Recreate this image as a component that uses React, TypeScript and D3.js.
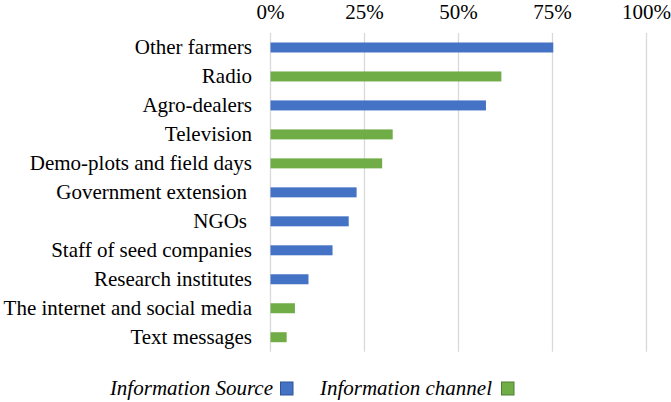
import React from "react";
import * as d3 from "d3";

const categories = [
  "Other farmers",
  "Radio",
  "Agro-dealers",
  "Television",
  "Demo-plots and field days",
  "Government extension",
  "NGOs",
  "Staff of seed companies",
  "Research institutes",
  "The internet and social media",
  "Text messages",
];
const values = [75.2, 61.4, 57.3, 32.5, 29.7, 22.9, 20.8, 16.5, 10.1, 6.5, 4.3];
const groups = ["source", "channel", "source", "channel", "channel", "source", "source", "source", "source", "channel", "channel"];
const tickValues = [0, 25, 50, 75, 100];
const legendItems = [
  { key: "source", label: "Information Source" },
  { key: "channel", label: "Information channel" },
];

const fillColor: Record<string, string> = { source: "#4472C4", channel: "#70AD47" };
const strokeColor: Record<string, string> = { source: "#2F5597", channel: "#507E32" };

export default function App() {
  const x = d3.scaleLinear().domain([0, 100]).range([270.5, 646.5]);
  const y = d3
    .scaleBand<string>()
    .domain(categories)
    .range([33, 351.7])
    .paddingInner(0.655)
    .paddingOuter(0.3275);
  const labelRight = [252, 252, 252, 252, 252, 247, 247, 252, 252, 252, 252];
  return (
    <svg width={671} height={402} style={{ position: "absolute", left: 0, top: 0 }}>
      {tickValues.map((t) => (
        <line key={"g" + t} x1={x(t)} x2={x(t)} y1={33} y2={351.7} stroke="#D9D9D9" strokeWidth={1.3} />
      ))}
      {tickValues.map((t) => (
        <text key={"t" + t} x={x(t)} y={19} fontFamily="Liberation Serif" fontSize={21} textAnchor="middle">
          {`${t}%`}
        </text>
      ))}
      {categories.map((c, i) => (
        <rect
          key={"r" + c}
          x={x(0)}
          y={y(c)!}
          width={x(values[i]) - x(0)}
          height={y.bandwidth()}
          fill={fillColor[groups[i]]}
        />
      ))}
      {categories.map((c, i) => (
        <text
          key={"l" + c}
          x={labelRight[i]}
          y={y(c)! + y.bandwidth() / 2 + 7}
          fontFamily="Liberation Serif"
          fontSize={21}
          textAnchor="end"
        >
          {c}
        </text>
      ))}
      <text x={273} y={395} fontFamily="Liberation Serif" fontSize={21} fontStyle="italic" textAnchor="end">
        {legendItems[0].label}
      </text>
      <rect x={280.5} y={382} width={12.5} height={13} fill={fillColor.source} stroke={strokeColor.source} strokeWidth={1} />
      <text x={492} y={395} fontFamily="Liberation Serif" fontSize={21} fontStyle="italic" textAnchor="end">
        {legendItems[1].label}
      </text>
      <rect x={501.5} y={382} width={12.5} height={13} fill={fillColor.channel} stroke={strokeColor.channel} strokeWidth={1} />
    </svg>
  );
}
